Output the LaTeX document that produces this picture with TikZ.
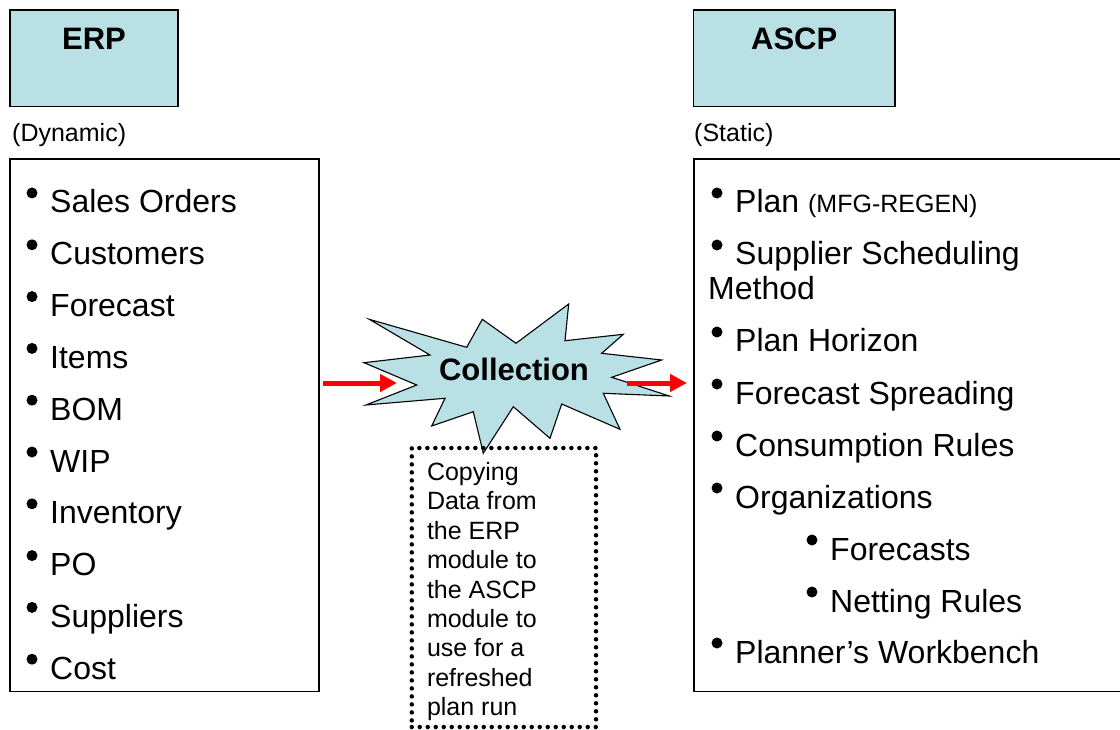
\documentclass[tikz,border=0pt]{standalone}
\usepackage{fontspec}
\setmainfont{Liberation Sans}
\usetikzlibrary{arrows.meta,positioning}
\definecolor{boxcyan}{RGB}{185,224,229}

\newcommand{\itemdot}[1]{\fill ([shift={(-18pt,20pt)}]#1.base west) circle[radius=5.5pt];}

\begin{document}
\begin{tikzpicture}[x=1pt,y=-1pt,
  headbox/.style={rectangle, draw, line width=1.6pt, fill=boxcyan, inner sep=0pt, minimum height=96.7pt},
  headtitle/.style={anchor=base, inner sep=0pt, font=\bfseries\fontsize{31}{36}\selectfont},
  listbox/.style={rectangle, draw, line width=1.6pt, inner sep=0pt, minimum height=532.5pt},
  entry/.style={anchor=base west, inner sep=0pt, font=\fontsize{32}{37}\selectfont},
  note/.style={anchor=base west, inner sep=0pt, font=\fontsize{25}{29}\selectfont},
  flow/.style={-{Triangle[length=17pt,width=17pt]}, red, line width=5pt}
]
\useasboundingbox (0,0) rectangle (1120,730);

% header boxes
\node (erpbox) [headbox, minimum width=168.5pt] at (94,58.3) {};
\node (erptitle) [headtitle] at ([yshift=-40pt]erpbox.north) {ERP};
\node (ascpbox) [headbox, minimum width=201.7pt] at (794.2,58.3) {};
\node (ascptitle) [headtitle] at ([yshift=-40pt]ascpbox.north) {ASCP};
\node (dyn) [note] at (12,142) {(Dynamic)};
\node (stat) [note] at (694,142) {(Static)};

% list boxes
\node (erplist) [listbox, minimum width=309pt] at (164.5,425.3) {};
\node (ascplist) [listbox, minimum width=436pt] at (912,425.3) {};

% ERP entries
\node (so) [entry] at (50,213) {Sales Orders};
\node (cu) [entry, below=51.8pt of so.base west, anchor=base west] {Customers};
\node (fc) [entry, below=51.8pt of cu.base west, anchor=base west] {Forecast};
\node (it) [entry, below=51.8pt of fc.base west, anchor=base west] {Items};
\node (bom) [entry, below=51.8pt of it.base west, anchor=base west] {BOM};
\node (wip) [entry, below=51.8pt of bom.base west, anchor=base west] {WIP};
\node (inv) [entry, below=51.8pt of wip.base west, anchor=base west] {Inventory};
\node (po) [entry, below=51.8pt of inv.base west, anchor=base west] {PO};
\node (sup) [entry, below=51.8pt of po.base west, anchor=base west] {Suppliers};
\node (cost) [entry, below=51.8pt of sup.base west, anchor=base west] {Cost};

% ASCP entries
\node (plan) [entry] at (735,213) {Plan {\fontsize{25}{29}\selectfont(MFG-REGEN)}};
\node (supp) [entry, below=52pt of plan.base west, anchor=base west] {Supplier Scheduling};
\node (meth) [entry, below left=35pt and 27pt of supp.base west, anchor=base west] {Method};
\node (hor) [entry, below right=52pt and 27pt of meth.base west, anchor=base west] {Plan Horizon};
\node (fsp) [entry, below=52pt of hor.base west, anchor=base west] {Forecast Spreading};
\node (cons) [entry, below=52pt of fsp.base west, anchor=base west] {Consumption Rules};
\node (org) [entry, below=52pt of cons.base west, anchor=base west] {Organizations};
\node (fcs) [entry, below right=52pt and 95pt of org.base west, anchor=base west] {Forecasts};
\node (net) [entry, below=52pt of fcs.base west, anchor=base west] {Netting Rules};
\node (pw) [entry, below left=51pt and 95pt of net.base west, anchor=base west] {Planner’s Workbench};

\foreach \n in {so,cu,fc,it,bom,wip,inv,po,sup,cost,plan,supp,hor,fsp,cons,org,fcs,net,pw}
  {\itemdot{\n}}

% collection burst
\filldraw[fill=boxcyan, draw=black, line width=1.1pt, line join=miter]
  (369.3,319.3) -- (466.7,347.3) -- (482.3,319.3) -- (516,343.3) -- (568.7,304)
  -- (565,340.7) -- (623.3,334.3) -- (601.7,353.3) -- (661.7,360) -- (611.7,377.3)
  -- (669.3,396) -- (603.3,393.3) -- (620,429.3) -- (561.7,404) -- (550,438.3)
  -- (513.3,406.7) -- (483.3,453.3) -- (473.3,411.7) -- (431.7,426) -- (445,398.3)
  -- (366,405) -- (416.7,385) -- (364,362.7) -- (430,355) -- cycle;
\node (coll) [headtitle] at (514,380.5) {Collection};

% data flow
\coordinate (erpout) at (323,383);
\coordinate (burstin) at (397,383);
\coordinate (burstout) at (627,383);
\coordinate (ascpin) at (687,383);
\draw[flow] (erpout) -- (burstin);
\draw[flow] (burstout) -- (ascpin);

% note box
\node (copybox) [rectangle, draw, line width=4.5pt, dash pattern=on 0pt off 8pt, line cap=round,
  minimum width=184.3pt, minimum height=279pt, inner sep=0pt] at (503.9,587.5) {};
\node (copytext) [inner sep=0pt, align=left, anchor=north west, font=\fontsize{25}{29.4}\selectfont,
  below right=16.5pt and 17.3pt of copybox.north west]
  {Copying\\Data from\\the ERP\\module to\\the ASCP\\module to\\use for a\\refreshed\\plan run};
\end{tikzpicture}
\end{document}
